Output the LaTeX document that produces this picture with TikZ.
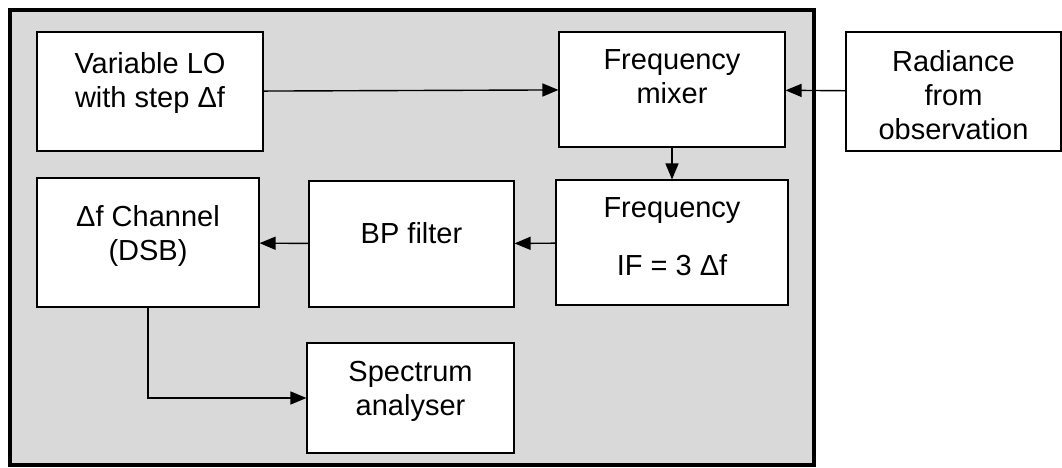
\documentclass[tikz,border=0pt]{standalone}
\usepackage{fontspec}
\setmainfont{Liberation Sans}
\usetikzlibrary{positioning,arrows.meta}

\tikzset{
  blk/.style={draw, fill=white, line width=1.1pt, inner sep=0pt},
  txt/.style={inner sep=0pt, align=center, font=\fontsize{29}{34}\selectfont},
  arr/.style={-{Triangle[length=16pt,width=13pt]}, line width=1.4pt},
}

\begin{document}
\begin{tikzpicture}[x=1pt, y=-1pt]
  \useasboundingbox (0,0) rectangle (1062,468);
  % grey receiver frame
  \draw[fill=gray!30, line width=4pt] (10,10) rectangle (814,465);

  \node[blk, minimum width=226pt, minimum height=119pt] (lo) at (150,91.5) {};
  \node[txt, below=21pt of lo.north] (lo-t) {Variable LO\\with step Δf};
  \node[blk, minimum width=226pt, minimum height=115pt] (mix) at (672,89.5) {};
  \node[txt, below=18pt of mix.north] (mix-t) {Frequency\\mixer};
  \node[blk, minimum width=215pt, minimum height=119pt] (rad) at (953.5,91.5) {};
  \node[txt, below=19pt of rad.north] (rad-t) {Radiance\\from\\observation};
  \node[blk, minimum width=232pt, minimum height=125pt] (ifb) at (672,242.5) {};
  \node[txt, below=18pt of ifb.north] (ifb-t) {Frequency\\[24pt]IF = 3 Δf};
  \node[blk, minimum width=205pt, minimum height=126pt] (bp) at (411.5,244) {};
  \node[txt, below=42pt of bp.north] (bp-t) {BP filter};
  \node[blk, minimum width=222pt, minimum height=129pt] (ch) at (148,242.5) {};
  \node[txt, below=28pt of ch.north] (ch-t) {Δf Channel\\(DSB)};
  \node[blk, minimum width=207pt, minimum height=110pt] (spec) at (410.5,398) {};
  \node[txt, below=19pt of spec.north] (spec-t) {Spectrum\\analyser};

  % signal path
  \draw[arr] (lo) -- (mix);
  \draw[arr] (rad) -- (mix);
  \draw[arr] (mix) -- (ifb);
  \draw[arr] (ifb) -- (bp);
  \draw[arr] (bp) -- (ch);
  \draw[arr] (ch) |- (spec);
\end{tikzpicture}
\end{document}
